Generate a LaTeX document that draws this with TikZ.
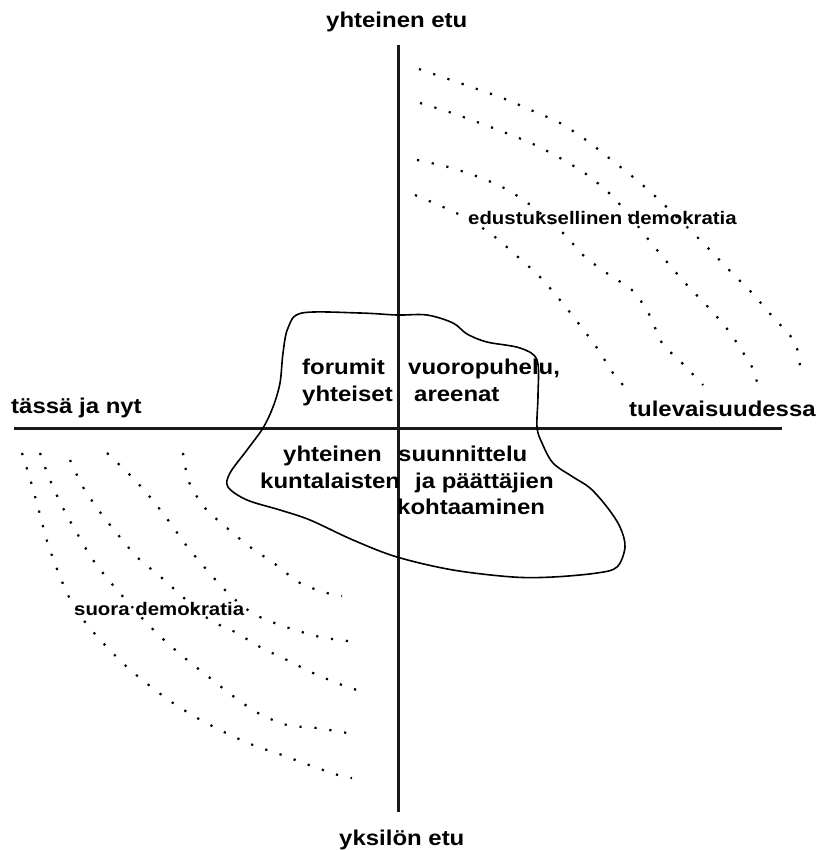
\documentclass[tikz,border=0pt]{standalone}
\usepackage{fontspec}
\setmainfont{Liberation Sans}[FakeStretch=1.12]
\begin{document}
\begin{tikzpicture}[x=1pt,y=-1pt,
  lbl/.style={inner sep=0pt,anchor=base west,font=\fontsize{21.4}{24}\selectfont\bfseries},
  sml/.style={inner sep=0pt,anchor=base west,font=\fontsize{18.2}{20}\selectfont\bfseries},
  axis/.style={line width=3pt,draw=black!90},
  dotline/.style={line width=2.2pt,dash pattern=on 2.2pt off 12.8pt},
  blob/.style={line width=1.6pt}]
\useasboundingbox (0,0) rectangle (818,850);
% axes
\coordinate (vt) at (398,45);
\coordinate (vb) at (398,812);
\coordinate (hl) at (14,428);
\coordinate (hr) at (782,428);
\draw[axis] (vt) -- (vb);
\draw[axis] (hl) -- (hr);
% axis labels
\node[lbl] (top) at (326,28) {yhteinen etu};
\node[lbl] (bot) at (339,845) {yksilön etu};
\node[lbl] (left) at (11,413) {tässä ja nyt};
\node[lbl] (right) at (629,416) {tulevaisuudessa};
% blob
\draw[blob] plot[smooth cycle,tension=0.55] coordinates {
 (302,313) (360,313) (397,315) (427,315) (453,323) (467,334) (487,342)
 (520,348) (537,360) (538,395) (537,427) (542,443) (553,463) (573,477)
 (590,488) (607,507) (620,527) (625,547) (617,567) (597,573) (553,577)
 (513,577) (453,570) (397,557) (353,540) (310,520) (280,510) (247,500)
 (228,487) (230,473) (247,450) (263,428) (273,407) (280,383) (283,353)
 (288,328)};
% centre texts
\node[lbl] (t1) at (302,374) {forumit};
\node[lbl] (t2) at (302,401) {yhteiset};
\node[lbl] (t3) at (408,374) {vuoropuhelu,};
\node[lbl] (t4) at (414,401) {areenat};
\node[lbl] (t5) at (283,461) {yhteinen};
\node[lbl] (t6) at (398,461) {suunnittelu};
\node[lbl] (t7) at (260,488) {kuntalaisten};
\node[lbl] (t8) at (415,488) {ja päättäjien};
\node[lbl] (t9) at (397,514) {kohtaaminen};
% upper right dotted arcs
\draw[dotline] plot[smooth] coordinates {(419,69) (448,79) (477,89) (505,99) (533,111) (560,123) (586,140) (609,158) (633,177) (656,197) (688,228) (710,250) (731,272) (752,293) (772,316) (792,338) (798,352) (800,367)};
\draw[dotline] plot[smooth] coordinates {(420,103) (449,112) (477,122) (506,133) (533,144) (560,158) (586,174) (609,193) (629,215) (648,239) (667,262) (687,285) (708,307) (728,330) (744,354) (752,367) (757,382)};
\draw[dotline] plot[smooth] coordinates {(417,160) (448,167) (476,176) (504,188) (529,204) (563,233) (584,256) (608,274) (633,291) (650,316) (662,343) (682,363) (703,385)};
\draw[dotline] plot[smooth] coordinates {(415,195) (443,207) (470,220) (495,237) (518,257) (540,277) (560,300) (579,324) (597,348) (613,373) (623,385)};
% lower left dotted arcs
\draw[dotline] plot[smooth] coordinates {(22,453) (31,482) (39,511) (47,541) (57,569) (69,597) (85,622) (105,645) (127,667) (150,686) (173,703) (199,719) (226,733) (253,745) (282,755) (309,765) (338,775) (352,778)};
\draw[dotline] plot[smooth] coordinates {(40,453) (50,480) (63,508) (78,535) (93,560) (112,584) (142,618) (163,639) (186,659) (210,678) (233,696) (258,713) (287,725) (317,728) (347,733)};
\draw[dotline] plot[smooth] coordinates {(70,460) (83,487) (100,512) (119,536) (138,558) (162,578) (184,598) (210,620) (235,632) (260,647) (287,660) (313,673) (342,685) (357,690)};
\draw[dotline] plot[smooth] coordinates {(107,453) (130,475) (150,497) (168,520) (186,545) (206,569) (225,590) (245,608) (262,618) (289,628) (320,637) (348,641)};
\draw[dotline] plot[smooth] coordinates {(183,453) (189,482) (205,508) (227,528) (250,547) (275,564) (300,583) (327,593) (342,596)};
% region labels
\node[sml] (ed) at (468,225) {edustuksellinen demokratia};
\node[sml] (su) at (74,615) {suora demokratia};
\end{tikzpicture}
\end{document}
